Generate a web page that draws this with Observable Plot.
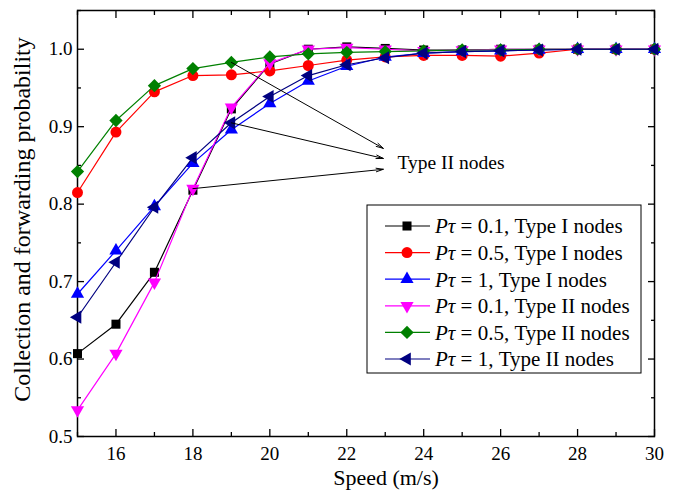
<!DOCTYPE html>
<html>
<head>
<meta charset="utf-8">
<script src="https://cdn.jsdelivr.net/npm/d3@7"></script>
<script src="https://cdn.jsdelivr.net/npm/@observablehq/plot@0.6"></script>
<style>
  body { margin: 0; background: #fff; }
  #chart { width: 678px; height: 493px; }
</style>
</head>
<body>
<div id="chart"></div>
<script>
// ---- Data ----
const speed = [15, 16, 17, 18, 19, 20, 21, 22, 23, 24, 25, 26, 27, 28, 29, 30];
const p01TypeI  = [0.607, 0.645, 0.712, 0.818, 0.923, 0.981, 1.000, 1.003, 1.001, 0.999, 0.999, 1.000, 1.000, 1.000, 1.000, 1.000];
const p05TypeI  = [0.815, 0.893, 0.945, 0.966, 0.967, 0.972, 0.979, 0.986, 0.990, 0.992, 0.992, 0.991, 0.995, 1.000, 1.000, 1.000];
const p1TypeI   = [0.684, 0.740, 0.797, 0.853, 0.896, 0.930, 0.959, 0.978, 0.990, 0.995, 0.997, 0.998, 0.999, 1.000, 1.000, 1.000];
const p01TypeII = [0.534, 0.607, 0.699, 0.820, 0.925, 0.982, 1.000, 1.002, 1.000, 0.998, 0.999, 1.000, 1.000, 1.000, 1.000, 1.000];
const p05TypeII = [0.842, 0.908, 0.953, 0.975, 0.983, 0.990, 0.994, 0.996, 0.997, 0.998, 0.999, 0.999, 1.000, 1.000, 1.000, 1.000];
const p1TypeII  = [0.654, 0.725, 0.796, 0.860, 0.905, 0.939, 0.966, 0.980, 0.989, 0.995, 0.997, 0.998, 0.999, 1.000, 1.000, 1.000];

const pValues   = ["0.1", "0.5", "1", "0.1", "0.5", "1"];
const nodeTypes = ["Type I", "Type I", "Type I", "Type II", "Type II", "Type II"];

const xTicks      = [16, 18, 20, 22, 24, 26, 28, 30];
const xMinorTicks = [15, 17, 19, 21, 23, 25, 27, 29];
const yTicks      = [0.5, 0.6, 0.7, 0.8, 0.9, 1.0];
const yMinorTicks = [0.55, 0.65, 0.75, 0.85, 0.95, 1.05];

const xLabel = "Speed (m/s)";
const yLabel = "Collection and forwarding probability";

const annotationText = "Type II nodes";
const annotationTextX = 23.32;
const annotationTextY = 0.854;
const annotationTargetX = 22.95;
const annotationTargetY = [0.872, 0.859, 0.845];

// ---- Styles ----
const seriesValues = [p01TypeI, p05TypeI, p1TypeI, p01TypeII, p05TypeII, p1TypeII];
const styles = [
  {color: "#000000", symbol: d3.symbolSquare,   rotate: 0,   r: 5.1},
  {color: "#ff0000", symbol: d3.symbolCircle,   rotate: 0,   r: 5.5},
  {color: "#0000ff", symbol: d3.symbolTriangle, rotate: 0,   r: 4.9},
  {color: "#ff00ff", symbol: d3.symbolTriangle, rotate: 180, r: 4.9},
  {color: "#008000", symbol: d3.symbolSquare,   rotate: 45,  r: 5.3},
  {color: "#000080", symbol: d3.symbolTriangle, rotate: -90, r: 4.9}
];

const seriesData = seriesValues.map(vals => speed.map((s, i) => ({x: s, y: vals[i]})));

// Arrows start at data points: P=0.5 Type II @19, P=1 Type II @19, P=0.1 Type II @18
const arrowSources = [
  {x: speed[4], y: p05TypeII[4]},
  {x: speed[4], y: p1TypeII[4]},
  {x: speed[3], y: p01TypeII[3]}
];
const arrows = arrowSources.map((s, i) => ({x1: s.x, y1: s.y, x2: annotationTargetX, y2: annotationTargetY[i]}));

const seriesMarks = [];
seriesData.forEach((data, i) => {
  const st = styles[i];
  seriesMarks.push(Plot.line(data, {x: "x", y: "y", stroke: st.color, strokeWidth: 1.2}));
  seriesMarks.push(Plot.dot(data, {x: "x", y: "y", fill: st.color, symbol: st.symbol, r: st.r, rotate: st.rotate}));
});

const chart = Plot.plot({
  width: 678,
  height: 493,
  marginLeft: 77,
  marginRight: 24,
  marginTop: 10,
  marginBottom: 57,
  style: {fontFamily: "'Liberation Serif', 'Times New Roman', serif", fontSize: "19px", background: "#fff", color: "#000"},
  x: {domain: [15, 30]},
  y: {domain: [0.5, 1.05]},
  marks: [
    // tick labels
    Plot.axisX(xTicks, {anchor: "bottom", tickSize: 0, tickPadding: 10, fontSize: 19, label: null}),
    Plot.axisY(yTicks, {anchor: "left", tickSize: 0, tickPadding: 5, fontSize: 19, tickFormat: d3.format(".1f"), label: null}),
    // inward ticks
    Plot.axisX(xTicks, {anchor: "bottom", tickSize: -7, strokeWidth: 1.3, fill: "none", label: null}),
    Plot.axisX(xMinorTicks, {anchor: "bottom", tickSize: -4, strokeWidth: 1.3, fill: "none", label: null}),
    Plot.axisX(xTicks, {anchor: "top", tickSize: -7, strokeWidth: 1.3, fill: "none", label: null}),
    Plot.axisX(xMinorTicks, {anchor: "top", tickSize: -4, strokeWidth: 1.3, fill: "none", label: null}),
    Plot.axisY(yTicks, {anchor: "left", tickSize: -7, strokeWidth: 1.3, fill: "none", label: null}),
    Plot.axisY(yMinorTicks, {anchor: "left", tickSize: -4, strokeWidth: 1.3, fill: "none", label: null}),
    Plot.axisY(yTicks, {anchor: "right", tickSize: -7, strokeWidth: 1.3, fill: "none", label: null}),
    Plot.axisY(yMinorTicks, {anchor: "right", tickSize: -4, strokeWidth: 1.3, fill: "none", label: null}),
    // axis titles
    Plot.text([xLabel], {text: d => d, frameAnchor: "bottom", dx: 20, dy: 41, fontSize: 22, textAnchor: "middle", lineAnchor: "middle"}),
    Plot.text([yLabel], {text: d => d, frameAnchor: "left", dx: -55, dy: -4, rotate: -90, fontSize: 24, textAnchor: "middle", lineAnchor: "middle"}),
    // frame
    Plot.frame({stroke: "#000", strokeWidth: 1.5}),
    // data
    ...seriesMarks,
    // annotation
    Plot.arrow(arrows, {x1: "x1", y1: "y1", x2: "x2", y2: "y2", stroke: "#000", strokeWidth: 1, headLength: 11, headAngle: 28}),
    Plot.text([annotationText], {x: annotationTextX, y: annotationTextY, text: d => d, textAnchor: "start", lineAnchor: "middle", fontSize: 19.5})
  ]
});

document.getElementById("chart").appendChild(chart);

// ---- Legend (inside plot area) ----
const svg = d3.select(chart);
const lg = svg.append("g").attr("transform", "translate(367,205)");
lg.append("rect").attr("width", 274).attr("height", 168)
  .attr("fill", "#fff").attr("stroke", "#000").attr("stroke-width", 1);
styles.forEach((st, i) => {
  const g = lg.append("g").attr("transform", `translate(0,${21 + i * 26.6})`);
  g.append("line").attr("x1", 18).attr("x2", 63).attr("y1", 0).attr("y2", 0)
    .attr("stroke", st.color).attr("stroke-width", 1.2);
  g.append("path").attr("transform", `translate(40,0) rotate(${st.rotate})`)
    .attr("d", d3.symbol(st.symbol, Math.PI * st.r * st.r)()).attr("fill", st.color);
  const t = g.append("text").attr("x", 68).attr("dy", "0.35em").attr("font-size", 21)
    .attr("text-anchor", "start").attr("fill", "#000");
  t.append("tspan").attr("font-style", "italic").text("Pτ");
  t.append("tspan").text(` = ${pValues[i]}, ${nodeTypes[i]} nodes`);
});
</script>
</body>
</html>
